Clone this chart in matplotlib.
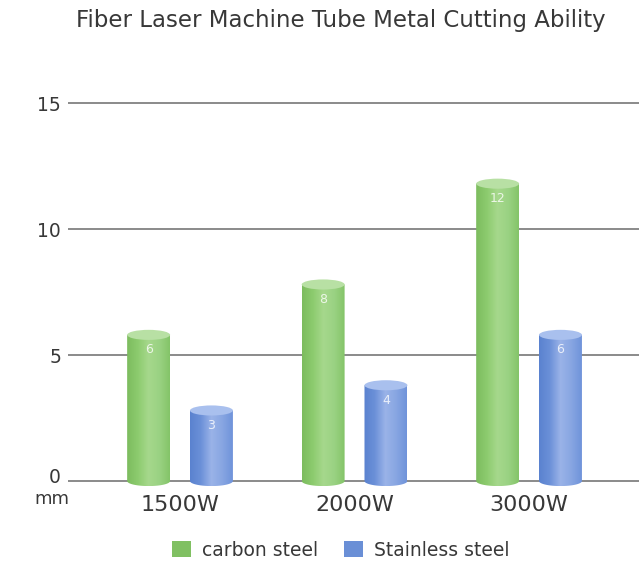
import numpy as np
import matplotlib
matplotlib.use("Agg")
import matplotlib.pyplot as plt
import matplotlib.transforms as mtransforms
from matplotlib.path import Path
from matplotlib.patches import PathPatch, Ellipse, Patch
from matplotlib.colors import LinearSegmentedColormap

categories = ["1500W", "2000W", "3000W"]
carbon_steel = [6, 8, 12]
stainless_steel = [3, 4, 6]
series_names = ["carbon steel", "Stainless steel"]
y_ticks = [0, 5, 10, 15]

GREEN = ["#7cbc5e", "#8ccb6e", "#a6d88c", "#9ad283", "#84c468"]
GREEN_CAP = "#b8e0a4"
BLUE = ["#5a82cf", "#6b90d8", "#9ab3e8", "#88a6e2", "#6f93da"]
BLUE_CAP = "#a9c0ee"
TXT = "#383838"

W = 0.246      # bar width (data units)
OFF = 0.18     # offset of each bar from group centre
EH = 0.2       # half height of the ellipse caps


def cylinder(ax, xc, v, colors, cap):
    x0, x1 = xc - W / 2, xc + W / 2
    t = np.linspace(np.pi, 2 * np.pi, 40)
    bx = xc + W / 2 * np.cos(t)
    by = EH * np.sin(t)
    verts = list(zip(bx, by)) + [(x1, v - EH), (x0, v - EH), (bx[0], by[0])]
    body = PathPatch(Path(verts), facecolor="none", edgecolor="none")
    ax.add_patch(body)
    cmap = LinearSegmentedColormap.from_list("c", colors)
    grad = np.linspace(0, 1, 256).reshape(1, -1)
    im = ax.imshow(grad, cmap=cmap, aspect="auto", extent=[x0, x1, -EH, v],
                   origin="lower", zorder=2)
    im.set_clip_path(body)
    ax.add_patch(Ellipse((xc, v - EH), W, 2 * EH, facecolor=cap,
                         edgecolor="none", zorder=3))
    ax.text(xc, v - 0.8, str(v), ha="center", va="center", fontsize=9,
            color="white", alpha=0.8, zorder=4)


fig = plt.figure(figsize=(6.39, 5.67), dpi=100)
ax = fig.add_axes([68 / 639, 0.1294, 1 - 68 / 639, 0.7111])

x = np.arange(len(categories))
for i in range(len(categories)):
    cylinder(ax, x[i] - OFF, carbon_steel[i], GREEN, GREEN_CAP)
    cylinder(ax, x[i] + OFF, stainless_steel[i], BLUE, BLUE_CAP)

ax.set_xlim(-0.642, 2.63)
ax.set_ylim(-0.5, 15.5)
ax.set_yticks(y_ticks)
ax.set_yticklabels([str(t) for t in y_ticks], fontsize=13.5, color=TXT)
ax.set_xticks(x)
ax.set_xticklabels(categories, fontsize=16, color=TXT)
ax.tick_params(length=0, pad=5)
ax.tick_params(axis="x", pad=1)
for s in ax.spines.values():
    s.set_visible(False)
ax.yaxis.grid(True, color="#8a8a8a", linewidth=1.4)
ax.set_axisbelow(True)

# lift the "0" label a little so "mm" fits under it
zero = ax.get_yticklabels()[0]
zero.set_transform(zero.get_transform() +
                   mtransforms.ScaledTranslation(0, 4 / 72, fig.dpi_scale_trans))

fig.text(52 / 639, 1 - 499 / 567, "mm", ha="center", va="center",
         fontsize=13, color=TXT)
fig.text(341 / 639, 1 - 21 / 567, "Fiber Laser Machine Tube Metal Cutting Ability",
         ha="center", va="center", fontsize=16.5, color=TXT)

handles = [Patch(facecolor="#80c062"), Patch(facecolor="#6a8fd6")]
fig.legend(handles, series_names, loc="center", bbox_to_anchor=(341 / 639, 1 - 550 / 567),
           ncol=2, frameon=False, fontsize=13.5, handlelength=1.0, handleheight=1.0,
           columnspacing=1.4, handletextpad=0.6, labelcolor=TXT)

fig.savefig("out.png", dpi=100)
